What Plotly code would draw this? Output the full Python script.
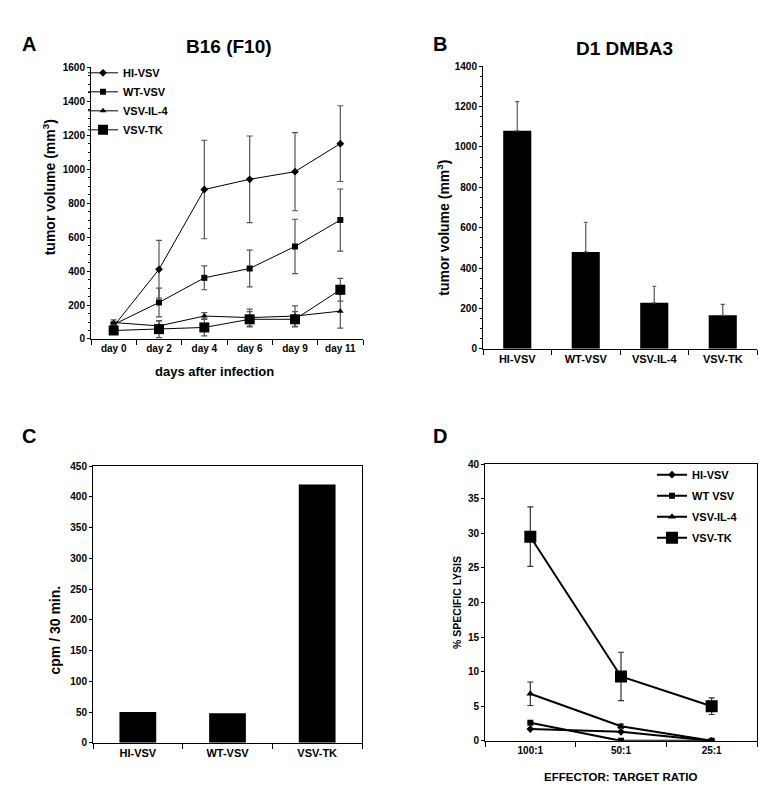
import plotly.graph_objects as go

# ---------- data ----------
days = ["day 0", "day 2", "day 4", "day 6", "day 9", "day 11"]
a_hi = [75, 410, 880, 940, 985, 1150]
a_hi_err = [20, 170, 290, 255, 230, 223]
a_wt = [85, 215, 360, 415, 545, 700]
a_wt_err = [15, 85, 70, 108, 160, 183]
a_il4 = [97, 77, 135, 126, 135, 164]
a_il4_err = [15, 30, 20, 50, 60, 100]
a_tk = [50, 58, 68, 116, 116, 290]
a_tk_err = [15, 50, 50, 45, 45, 67]

b_cats = ["HI-VSV", "WT-VSV", "VSV-IL-4", "VSV-TK"]
b_vals = [1080, 480, 228, 166]
b_err = [145, 147, 82, 54]

c_cats = ["HI-VSV", "WT-VSV", "VSV-TK"]
c_vals = [50, 48, 420]

d_cats = ["100:1", "50:1", "25:1"]
d_hi = [1.7, 1.3, 0]
d_wt = [2.6, 0, 0]
d_il4 = [6.8, 2.1, 0]
d_il4_err = [1.7, 0.3, 0]
d_tk = [29.5, 9.3, 5.0]
d_tk_err = [4.3, 3.5, 1.2]

W, H = 767, 791
def fx(px): return px / W
def fy(py): return 1 - py / H

FONT = "Liberation Sans, Arial, sans-serif"
NARROW = "Liberation Sans Narrow, Arial Narrow, Liberation Sans, sans-serif"

fig = go.Figure()

# ---------- Panel A ----------
grey = "#555555"
series_a = [
    ("HI-VSV", a_hi, a_hi_err, "diamond", 6),
    ("WT-VSV", a_wt, a_wt_err, "square", 6),
    ("VSV-IL-4", a_il4, a_il4_err, "triangle-up", 6),
    ("VSV-TK", a_tk, a_tk_err, "square", 10),
]
for name, y, e, sym, sz in series_a:
    fig.add_trace(go.Scatter(
        x=days, y=y, name=name, mode="lines+markers",
        line=dict(color="black", width=1),
        marker=dict(symbol=sym, size=sz, color="black"),
        error_y=dict(type="data", array=e, color=grey, thickness=1.2, width=3),
        xaxis="x", yaxis="y", legend="legend"))

# ---------- Panel B ----------
fig.add_trace(go.Bar(
    x=b_cats, y=b_vals, width=0.41, marker=dict(color="black", line=dict(width=0)),
    error_y=dict(type="data", symmetric=False, array=b_err, arrayminus=[0]*len(b_err),
                 color=grey, thickness=1.2, width=2),
    showlegend=False, xaxis="x2", yaxis="y2"))

# ---------- Panel C ----------
fig.add_trace(go.Bar(
    x=c_cats, y=c_vals, width=0.41, marker=dict(color="black", line=dict(width=0)),
    showlegend=False, xaxis="x3", yaxis="y3"))

# ---------- Panel D ----------
series_d = [
    ("HI-VSV", d_hi, None, "diamond", 6),
    ("WT VSV", d_wt, None, "square", 6),
    ("VSV-IL-4", d_il4, d_il4_err, "triangle-up", 7),
    ("VSV-TK", d_tk, d_tk_err, "square", 12),
]
for name, y, e, sym, sz in series_d:
    kw = {}
    if e is not None:
        kw["error_y"] = dict(type="data", array=e, color="#333333", thickness=1.2, width=3)
    fig.add_trace(go.Scatter(
        x=d_cats, y=y, name=name, mode="lines+markers",
        line=dict(color="black", width=2),
        marker=dict(symbol=sym, size=sz, color="black"),
        legendgroup="d_" + name,
        xaxis="x4", yaxis="y4", legend="legend2", **kw))

tickfont = dict(family=FONT, size=10, color="black", weight="bold")
catfont = dict(family=FONT, size=11, color="black", weight="bold")

def yax(domain, rng, dtick, anchor, minor=None, mirror=False, font=tickfont):
    d = dict(domain=domain, range=rng, dtick=dtick, anchor=anchor,
             showline=True, linecolor="black", linewidth=1, mirror=mirror,
             ticks="outside", ticklen=3, tickcolor="black", tickwidth=1,
             showgrid=False, zeroline=False, tickfont=font, fixedrange=True)
    if minor:
        d["minor"] = dict(dtick=minor, ticks="outside", ticklen=2, tickcolor="black", showgrid=False)
    return d

def xax(domain, n, anchor, font, mirror=False):
    return dict(domain=domain, type="category", range=[-0.5, n - 0.5], anchor=anchor,
                showline=True, linecolor="black", linewidth=1, mirror=mirror,
                ticks="outside", tickson="boundaries", ticklen=5, tickcolor="black",
                showgrid=False, zeroline=False, tickfont=font, fixedrange=True)

fig.update_layout(
    width=W, height=H, margin=dict(l=0, r=0, t=0, b=0),
    paper_bgcolor="white", plot_bgcolor="white",
    xaxis=xax([fx(83), fx(355)], 6, "y", tickfont),
    yaxis=yax([fy(330), fy(54)], [0, 1600], 200, "x", minor=50),
    xaxis2=xax([fx(475), fx(749)], 4, "y2", catfont),
    yaxis2=yax([fy(340), fy(53)], [0, 1400], 200, "x2", minor=50),
    xaxis3=xax([fx(85), fx(354)], 3, "y3", catfont, mirror=True),
    yaxis3=yax([fy(740), fy(459)], [0, 450], 50, "x3", mirror=True),
    xaxis4=xax([fx(477), fx(749)], 3, "y4", dict(family=FONT, size=10, color="black", weight="bold"), mirror=True),
    yaxis4=yax([fy(738), fy(457)], [0, 40], 5, "x4", mirror=True),
    legend=dict(x=fx(75), y=fy(45), xanchor="left", yanchor="top",
                font=dict(family=FONT, size=11, color="black", weight="bold"),
                bgcolor="rgba(0,0,0,0)", tracegroupgap=0, itemwidth=30),
    legend2=dict(x=fx(644), y=fy(453), xanchor="left", yanchor="top",
                 font=dict(family=FONT, size=11, color="black", weight="bold"),
                 bgcolor="rgba(0,0,0,0)", tracegroupgap=2, itemwidth=30),
    showlegend=True,
)

ann = []
def text(x, y, t, size, angle=0, family=FONT):
    ann.append(dict(x=fx(x), y=fy(y), xref="paper", yref="paper", text=t,
                    showarrow=False, textangle=angle, xanchor="center", yanchor="middle",
                    font=dict(family=family, size=size, color="black", weight="bold")))

text(21, 30, "A", 20, family=NARROW)
text(432, 30, "B", 20, family=NARROW)
text(21, 428, "C", 20, family=NARROW)
text(432, 428, "D", 20, family=NARROW)
text(221, 33, "B16 (F10)", 19)
text(616, 35, "D1 DMBA3", 19)
text(41, 176, "tumor volume (mm<sup>3</sup>)", 14, -90)
text(435, 217, "tumor volume (mm<sup>3</sup>)", 14, -90)
text(47, 626, "cpm / 30 min.", 14, -90)
text(449, 598, "% SPECIFIC LYSIS", 10.5, -90)
text(207, 363, "days after infection", 13)
text(612, 775, "EFFECTOR: TARGET RATIO", 11.5, family=NARROW)
fig.update_layout(annotations=ann)

fig.write_html("out.html")
